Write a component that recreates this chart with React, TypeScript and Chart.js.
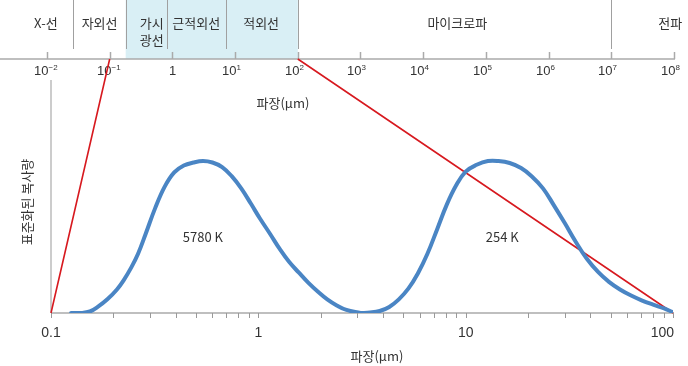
import { useEffect, useRef } from 'react';
import { Chart, registerables } from 'chart.js';

Chart.register(...registerables);

// ---- data ----
const sunWavelengths = [
  0.125, 0.139, 0.154, 0.168, 0.187, 0.208, 0.224, 0.244, 0.263, 0.286, 0.318, 0.353, 0.393, 0.437, 0.486, 0.541,
  0.601, 0.669, 0.744, 0.827, 0.92, 1.02, 1.14, 1.27, 1.41, 1.57, 1.74, 1.94, 2.15, 2.39, 2.66, 3.11,
];
const sunRadiance = [
  0.0, 0.0, 0.01, 0.04, 0.09, 0.155, 0.215, 0.3, 0.39, 0.52, 0.69, 0.83, 0.925, 0.97, 0.99, 1.0,
  0.99, 0.96, 0.9, 0.82, 0.72, 0.62, 0.52, 0.42, 0.335, 0.265, 0.2, 0.14, 0.09, 0.05, 0.02, 0.0,
];

const earthWavelengths = [
  3.11, 3.46, 3.85, 4.28, 4.76, 5.29, 5.88, 6.54, 7.28, 8.09, 9.0, 10, 11.3, 12.8, 14.4, 16.3,
  18.5, 20.8, 23.6, 26.6, 30.1, 34.0, 38.5, 43.5, 49.1, 55.5, 62.8, 71.0, 80.2, 90.6, 98.8,
];
const earthRadiance = [
  0.0, 0.003, 0.013, 0.04, 0.09, 0.16, 0.26, 0.39, 0.55, 0.71, 0.84, 0.93, 0.975, 1.0, 1.0, 0.987,
  0.954, 0.9, 0.82, 0.71, 0.59, 0.467, 0.355, 0.27, 0.205, 0.155, 0.115, 0.082, 0.055, 0.03, 0.008,
];

const bottomMajorTicks = [0.1, 1, 10, 100];
const bottomTickLabels = ['0.1', '1', '10', '100'];
const bottomMinorTicks = [
  0.2, 0.3, 0.4, 0.5, 0.6, 0.7, 0.8, 0.9,
  2, 3, 4, 5, 6, 7, 8, 9,
  20, 30, 40, 50, 60, 70, 80, 90,
];

const topExponents = [-2, -1, 0, 1, 2, 3, 4, 5, 6, 7, 8];
const bandEdges = [0.026, 0.18, 0.83, 7.2, 100, 1e7];
const visibleBand = [0.18, 100];
const bandNames = ['X-선', '자외선', '가시\n광선', '근적외선', '적외선', '마이크로파', '전파'];
const bandLabelAt = [0.0096, 0.069, 0.47, 2.4, 26, 3.5e4, 8.7e7];

const zoomRange = [0.1, 100];
const curveLabels = ['5780 K', '254 K'];
const curveLabelAt = [0.54, 15];
const curveLabelLevel = [0.5, 0.5];

const axisTitle = '파장(μm)';
const yTitle = '표준화된 복사량';

// ---- style ----
const KR = '"Noto Sans CJK KR", "Noto Sans", sans-serif';
const NUM = '"Liberation Sans", Arial, sans-serif';
const TEXT = '#333333';
const GRAY = '#aaaaaa';
const RED = '#d7191f';
const BLUE = '#4a85c4';
const TOP_AXIS_Y = 59;

const drawPlugin = {
  id: 'spectrumDecor',
  beforeDatasetsDraw(chart: any) {
    const ctx = chart.ctx as CanvasRenderingContext2D;
    const { left, right, top, bottom } = chart.chartArea;
    const xs = chart.scales.x;
    const xt = chart.scales.xTop;
    const ys = chart.scales.y;
    ctx.save();

    // visible/IR shading
    const bx0 = xt.getPixelForValue(visibleBand[0]);
    const bx1 = xt.getPixelForValue(visibleBand[1]);
    ctx.fillStyle = '#d9eff5';
    ctx.fillRect(bx0, 0, bx1 - bx0, TOP_AXIS_Y);

    // dividers
    ctx.strokeStyle = '#a0a0a0';
    ctx.lineWidth = 1;
    for (const e of bandEdges) {
      const px = Math.round(xt.getPixelForValue(e)) + 0.5;
      ctx.beginPath();
      ctx.moveTo(px, 0);
      ctx.lineTo(px, 49);
      ctx.stroke();
    }

    // top axis line
    const endX = xt.getPixelForValue(Math.pow(10, topExponents[topExponents.length - 1]));
    ctx.strokeStyle = GRAY;
    ctx.lineWidth = 1.5;
    ctx.beginPath();
    ctx.moveTo(0, TOP_AXIS_Y);
    ctx.lineTo(endX + 1, TOP_AXIS_Y);
    ctx.stroke();

    // decade ticks + labels
    for (const e of topExponents) {
      const px = Math.round(xt.getPixelForValue(Math.pow(10, e))) + 0.5;
      ctx.strokeStyle = GRAY;
      ctx.lineWidth = 1.5;
      ctx.beginPath();
      ctx.moveTo(px, 52);
      ctx.lineTo(px, TOP_AXIS_Y);
      ctx.stroke();
      ctx.fillStyle = TEXT;
      ctx.textBaseline = 'alphabetic';
      if (e === 0) {
        ctx.font = `13px ${NUM}`;
        ctx.textAlign = 'center';
        ctx.fillText('1', px, 75);
      } else {
        ctx.font = `13px ${NUM}`;
        ctx.textAlign = 'right';
        ctx.fillText('10', px + 1, 75);
        ctx.font = `8px ${NUM}`;
        ctx.textAlign = 'left';
        ctx.fillText(e < 0 ? '−' + Math.abs(e) : String(e), px + 1, 70);
      }
    }

    // band names
    ctx.font = `13px ${KR}`;
    ctx.fillStyle = TEXT;
    ctx.textAlign = 'center';
    ctx.textBaseline = 'middle';
    bandNames.forEach((name, i) => {
      let px = xt.getPixelForValue(bandLabelAt[i]);
      const lines = name.split('\n');
      if (lines.length === 1) {
        const w = ctx.measureText(name).width;
        px = Math.min(px, chart.width - w / 2 - 1);
        ctx.fillText(name, px, 23);
      } else {
        ctx.fillText(lines[0], px, 23);
        ctx.fillText(lines[1], px, 40);
      }
    });

    // top axis title
    ctx.font = `13px ${KR}`;
    ctx.textAlign = 'center';
    ctx.fillText(axisTitle, 283, 103);

    // y axis line
    ctx.strokeStyle = '#bbbbbb';
    ctx.lineWidth = 1.5;
    ctx.beginPath();
    ctx.moveTo(left, top);
    ctx.lineTo(left, bottom);
    ctx.stroke();

    // bottom axis
    ctx.strokeStyle = GRAY;
    ctx.lineWidth = 1.5;
    ctx.beginPath();
    ctx.moveTo(left, bottom);
    ctx.lineTo(right + 1, bottom);
    ctx.stroke();
    ctx.lineWidth = 1;
    ctx.strokeStyle = '#999999';
    for (const t of [...bottomMajorTicks, ...bottomMinorTicks]) {
      const px = Math.round(xs.getPixelForValue(t)) + 0.5;
      ctx.beginPath();
      ctx.moveTo(px, bottom);
      ctx.lineTo(px, bottom + 5);
      ctx.stroke();
    }
    ctx.fillStyle = TEXT;
    ctx.font = `14px ${NUM}`;
    ctx.textBaseline = 'alphabetic';
    bottomMajorTicks.forEach((t, i) => {
      const px = xs.getPixelForValue(t);
      const last = i === bottomMajorTicks.length - 1;
      ctx.textAlign = last ? 'right' : 'center';
      ctx.fillText(bottomTickLabels[i], last ? px + 1 : px, 337);
    });
    ctx.font = `13px ${KR}`;
    ctx.textAlign = 'center';
    ctx.textBaseline = 'middle';
    ctx.fillText(axisTitle, 377, 356);

    // y title
    ctx.save();
    ctx.translate(27, 202);
    ctx.rotate(-Math.PI / 2);
    ctx.font = `13px ${KR}`;
    ctx.fillText(yTitle, 0, 0);
    ctx.restore();

    // zoom lines
    ctx.strokeStyle = RED;
    ctx.lineWidth = 1.6;
    ctx.beginPath();
    ctx.moveTo(xs.getPixelForValue(zoomRange[0]), ys.getPixelForValue(0));
    ctx.lineTo(xt.getPixelForValue(zoomRange[0]), TOP_AXIS_Y);
    ctx.moveTo(xt.getPixelForValue(zoomRange[1]), TOP_AXIS_Y);
    ctx.lineTo(xs.getPixelForValue(zoomRange[1]), ys.getPixelForValue(0));
    ctx.stroke();

    ctx.restore();
  },
  afterDatasetsDraw(chart: any) {
    const ctx = chart.ctx as CanvasRenderingContext2D;
    const xs = chart.scales.x;
    const ys = chart.scales.y;
    ctx.save();
    ctx.fillStyle = TEXT;
    ctx.font = `13px ${KR}`;
    ctx.textAlign = 'center';
    ctx.textBaseline = 'middle';
    curveLabels.forEach((label, i) => {
      ctx.fillText(label, xs.getPixelForValue(curveLabelAt[i]), ys.getPixelForValue(curveLabelLevel[i]));
    });
    ctx.restore();
  },
};

export default function App() {
  const ref = useRef<HTMLCanvasElement>(null);
  useEffect(() => {
    document.body.style.margin = '0';
    const canvas = ref.current;
    if (!canvas) return;
    const lineStyle = {
      borderColor: BLUE,
      borderWidth: 4,
      pointRadius: 0,
      tension: 0.4,
      fill: false,
      borderCapStyle: 'round',
      borderJoinStyle: 'round',
    };
    const chart = new Chart(canvas, {
      type: 'line',
      data: {
        datasets: [
          { ...lineStyle, data: sunWavelengths.map((x, i) => ({ x, y: sunRadiance[i] })) },
          { ...lineStyle, data: earthWavelengths.map((x, i) => ({ x, y: earthRadiance[i] })) },
        ],
      },
      options: {
        animation: false,
        responsive: false,
        devicePixelRatio: 1,
        layout: { padding: { left: 51, right: 15, top: 80, bottom: 53 } },
        plugins: { legend: { display: false }, tooltip: { enabled: false } },
        scales: {
          x: { type: 'logarithmic', min: 0.1, max: 100, display: false },
          xTop: {
            type: 'logarithmic',
            axis: 'x',
            position: 'top',
            min: Math.pow(10, -1.936),
            max: Math.pow(10, 7.984),
            display: false,
          },
          y: { type: 'linear', min: 0, max: 1.533, display: false },
        },
      },
      plugins: [drawPlugin],
    } as any);
    return () => chart.destroy();
  }, []);
  return (
    <div style={{ position: 'absolute', left: 0, top: 0 }}>
      <canvas ref={ref} width={688} height={366} style={{ display: 'block' }} />
    </div>
  );
}
